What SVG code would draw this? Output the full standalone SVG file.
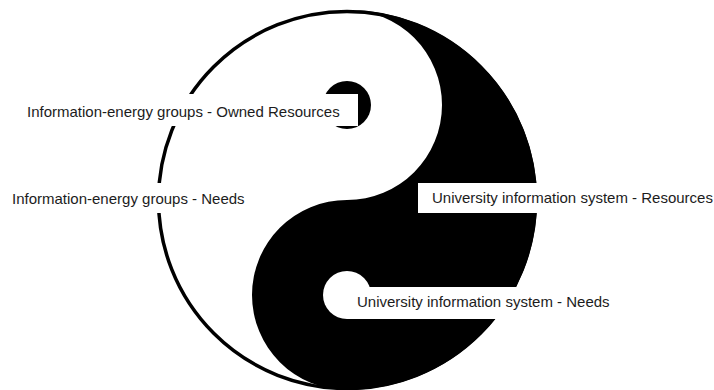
<svg xmlns="http://www.w3.org/2000/svg" width="714" height="390" viewBox="0 0 714 390">
  <style>
    .label-box { fill: #ffffff; stroke: none; }
    .label-text { font-family: "Liberation Sans", Arial, sans-serif; font-size: 15px; fill: #1c1c1c; }
    .ink { fill: #000000; }
    .paper { fill: #ffffff; }
    .rim { fill: none; stroke: #000000; stroke-width: 3.5; }
  </style>
  <rect width="714" height="390" fill="#ffffff"/>

  <!-- Yin-yang symbol: outer circle r=190 centred at (347,200) -->
  <g id="yin-yang">
    <circle class="paper" cx="347" cy="200" r="190"/>
    <path class="ink" d="M347,10 A190,190 0 0 1 347,390 A95,95 0 0 1 347,200 A95,95 0 0 0 347,10 Z"/>
    <circle class="ink" cx="347" cy="105" r="24"/>
    <circle class="paper" cx="347" cy="295" r="24"/>
    <circle class="rim" cx="347" cy="200" r="188.5"/>
  </g>

  <g id="groups-owned-resources">
    <rect class="label-box" x="20" y="94" width="338" height="32"/>
    <text class="label-text" x="27" y="117">Information-energy groups - Owned Resources</text>
  </g>

  <g id="groups-needs">
    <rect class="label-box" x="5" y="183" width="247" height="30"/>
    <text class="label-text" x="12" y="204">Information-energy groups - Needs</text>
  </g>

  <g id="university-resources">
    <rect class="label-box" x="418" y="183" width="296" height="30"/>
    <text class="label-text" x="432" y="203">University information system - Resources</text>
  </g>

  <g id="university-needs">
    <rect class="label-box" x="347" y="287" width="272" height="32"/>
    <text class="label-text" x="357" y="307">University information system - Needs</text>
  </g>
</svg>
